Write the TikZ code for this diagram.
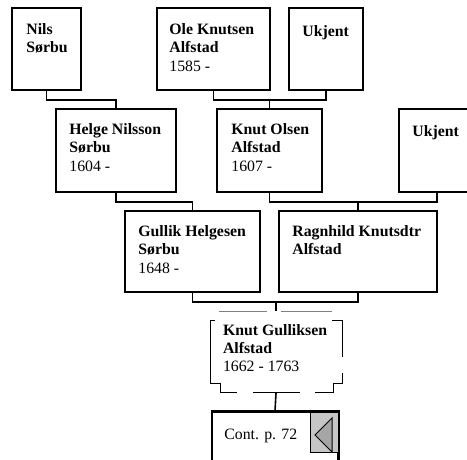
\documentclass[tikz,border=0pt]{standalone}
\usepackage{fontspec}
\setmainfont{Liberation Serif}

\begin{document}
\begin{tikzpicture}[
        x = 1pt, y = -1pt,
        line join=miter,
        person/.style = {draw, line width=1.6pt, inner sep=0pt},
        who/.style = {font=\fontsize{15.8}{18.3}\selectfont\bfseries, align=left, anchor=north west,
                      inner sep=0pt, execute at begin node=\strut, yshift=12.8pt},
        link/.style = {line width=1.6pt},
        thin/.style = {line width=1pt}
    ]

    \useasboundingbox (0,0) rectangle (467,459);
    \clip (0,0) rectangle (467,459);

    % boxes
    \node[person, minimum width=69pt, minimum height=82pt] (nils) at (46.5,49) {};
    \node[person, minimum width=113pt, minimum height=82pt] (ole) at (213.5,49) {};
    \node[person, minimum width=74pt, minimum height=82pt] (ukjentA) at (326,49) {};
    \node[person, minimum width=120pt, minimum height=83pt] (helge) at (116,150.5) {};
    \node[person, minimum width=105pt, minimum height=83pt] (knutO) at (269.5,150.5) {};
    \node[person, minimum width=76pt, minimum height=83pt] (ukjentB) at (437,150.5) {};
    \node[person, minimum width=135pt, minimum height=81pt] (gullik) at (192.5,251.5) {};
    \node[person, minimum width=158pt, minimum height=81pt] (ragnhild) at (358,251.5) {};
    \node[minimum width=132pt, minimum height=73pt, inner sep=0pt] (knutG) at (276,356.5) {};
    \node[person, minimum width=126pt, minimum height=60pt] (cont) at (275,442) {};

    % names
    \node[who] (nilsT) at ([shift={(15,29)}]nils.north west) {Nils\\Sørbu};
    \node[who] (oleT) at ([shift={(13,29)}]ole.north west) {Ole Knutsen\\Alfstad\\\textnormal{1585 -}};
    \node[who] (ukjentAT) at ([shift={(14,29)}]ukjentA.north west) {Ukjent};
    \node[who] (helgeT) at ([shift={(14,28)}]helge.north west) {Helge Nilsson\\Sørbu\\\textnormal{1604 -}};
    \node[who] (knutOT) at ([shift={(15,28)}]knutO.north west) {Knut Olsen\\Alfstad\\\textnormal{1607 -}};
    \node[who] (ukjentBT) at ([shift={(14,28)}]ukjentB.north west) {Ukjent};
    \node[who] (gullikT) at ([shift={(14,28)}]gullik.north west) {Gullik Helgesen\\Sørbu\\\textnormal{1648 -}};
    \node[who] (ragnhildT) at ([shift={(14,28)}]ragnhild.north west) {Ragnhild Knutsdtr\\Alfstad};
    \node[who] (knutGT) at ([shift={(13,17)}]knutG.north west) {Knut Gulliksen\\Alfstad\\\textnormal{1662 - 1763}};
    \node[who, font=\fontsize{15.8}{18.3}\selectfont] (contT) at ([shift={(13,28)}]cont.north west) {Cont. p. 72};

    % lines
    \draw[link] (nils.south) -- ++(0,9) -| (helge.north);
    \draw[link] (ole.south) -- ++(0,9) coordinate (oleBar) -| (ukjentA.south);
    \draw[link] (knutO.north) -- (knutO.north |- oleBar);
    \draw[link] (helge.south) -- ++(0,9) -| (gullik.north);
    \draw[link] (knutO.south) -- ++(0,9) coordinate (knutBar) -| (ukjentB.south);
    \draw[link] (ragnhild.north) -- (ragnhild.north |- knutBar);
    \draw[link] (gullik.south) -- ++(0,9) coordinate (gBar) -| (ragnhild.south);
    \draw[link] (knutG.north |- gBar) -- ([shift={(0,-9)}]knutG.north);
    \draw[link] (knutG.south) -- (cont.north);

    \draw[gray, thin] (219,311) -- (267,311) (281,311) -- (332,311);
    \draw[thin] (215,320) -- (210,320) -- (210,383) -- (220,383) -- (220,392) -- (237,392)
        (253,392) -- (300,392)
        (315,392) -- (333,392) -- (333,383) -- (342,383) -- (342,373)
        (342,357) -- (342,320) -- (332,320);

    % back button
    \draw[fill=gray!45, line width=0.8pt] (310,412) rectangle (338,452);
    \draw[fill=gray!70, line width=1pt] (332,418) -- (315,435) -- (332,452) -- cycle;
    \draw[link] (cont.north west) -- (cont.north east) -- (cont.south east);
\end{tikzpicture}
\end{document}
